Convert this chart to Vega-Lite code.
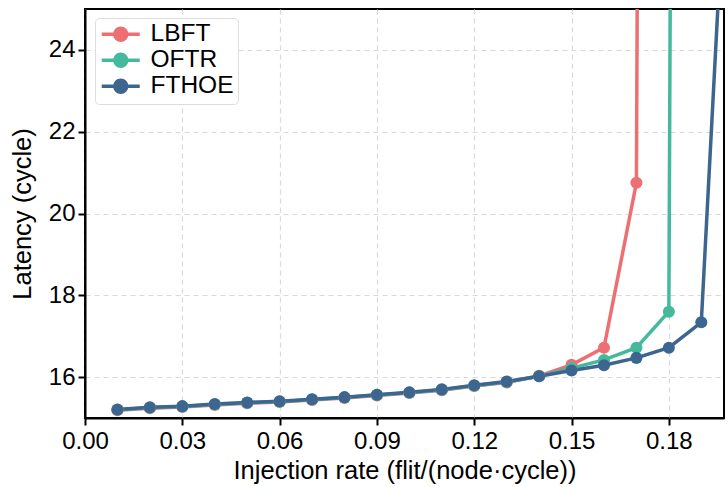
{
  "$schema": "https://vega.github.io/schema/vega-lite/v6.json",
  "width": 639,
  "height": 409,
  "autosize": "none",
  "padding": {"left": 85, "top": 9, "right": 4, "bottom": 69},
  "background": "white",
  "config": {
    "font": "Liberation Sans",
    "view": {"stroke": "black", "strokeWidth": 2},
    "axis": {
      "domainColor": "black", "domainWidth": 2,
      "tickColor": "black", "tickWidth": 2, "tickSize": 7,
      "labelColor": "black", "labelFontSize": 24, "labelFont": "Liberation Sans", "labelFlush": false,
      "titleColor": "black", "titleFontSize": 25.5, "titleFontWeight": "normal", "titleFont": "Liberation Sans",
      "gridColor": "#d9d9d9", "gridDash": [5, 4], "gridWidth": 1.2
    }
  },
  "data": {"values": [
    {"x": 0.01, "y": 15.19, "s": "LBFT"},
    {"x": 0.02, "y": 15.24, "s": "LBFT"},
    {"x": 0.03, "y": 15.27, "s": "LBFT"},
    {"x": 0.04, "y": 15.32, "s": "LBFT"},
    {"x": 0.05, "y": 15.36, "s": "LBFT"},
    {"x": 0.06, "y": 15.39, "s": "LBFT"},
    {"x": 0.07, "y": 15.44, "s": "LBFT"},
    {"x": 0.08, "y": 15.49, "s": "LBFT"},
    {"x": 0.09, "y": 15.55, "s": "LBFT"},
    {"x": 0.10, "y": 15.61, "s": "LBFT"},
    {"x": 0.11, "y": 15.68, "s": "LBFT"},
    {"x": 0.12, "y": 15.78, "s": "LBFT"},
    {"x": 0.13, "y": 15.87, "s": "LBFT"},
    {"x": 0.14, "y": 16.03, "s": "LBFT"},
    {"x": 0.15, "y": 16.30, "s": "LBFT"},
    {"x": 0.16, "y": 16.72, "s": "LBFT"},
    {"x": 0.17, "y": 20.75, "s": "LBFT"},
    {"x": 0.18, "y": 200, "s": "LBFT"},
    {"x": 0.01, "y": 15.20, "s": "OFTR"},
    {"x": 0.02, "y": 15.25, "s": "OFTR"},
    {"x": 0.03, "y": 15.28, "s": "OFTR"},
    {"x": 0.04, "y": 15.33, "s": "OFTR"},
    {"x": 0.05, "y": 15.37, "s": "OFTR"},
    {"x": 0.06, "y": 15.40, "s": "OFTR"},
    {"x": 0.07, "y": 15.45, "s": "OFTR"},
    {"x": 0.08, "y": 15.50, "s": "OFTR"},
    {"x": 0.09, "y": 15.56, "s": "OFTR"},
    {"x": 0.10, "y": 15.62, "s": "OFTR"},
    {"x": 0.11, "y": 15.69, "s": "OFTR"},
    {"x": 0.12, "y": 15.79, "s": "OFTR"},
    {"x": 0.13, "y": 15.88, "s": "OFTR"},
    {"x": 0.14, "y": 16.02, "s": "OFTR"},
    {"x": 0.15, "y": 16.22, "s": "OFTR"},
    {"x": 0.16, "y": 16.42, "s": "OFTR"},
    {"x": 0.17, "y": 16.72, "s": "OFTR"},
    {"x": 0.18, "y": 17.60, "s": "OFTR"},
    {"x": 0.19, "y": 200, "s": "OFTR"},
    {"x": 0.01, "y": 15.21, "s": "FTHOE"},
    {"x": 0.02, "y": 15.26, "s": "FTHOE"},
    {"x": 0.03, "y": 15.29, "s": "FTHOE"},
    {"x": 0.04, "y": 15.34, "s": "FTHOE"},
    {"x": 0.05, "y": 15.38, "s": "FTHOE"},
    {"x": 0.06, "y": 15.41, "s": "FTHOE"},
    {"x": 0.07, "y": 15.46, "s": "FTHOE"},
    {"x": 0.08, "y": 15.51, "s": "FTHOE"},
    {"x": 0.09, "y": 15.57, "s": "FTHOE"},
    {"x": 0.10, "y": 15.63, "s": "FTHOE"},
    {"x": 0.11, "y": 15.70, "s": "FTHOE"},
    {"x": 0.12, "y": 15.80, "s": "FTHOE"},
    {"x": 0.13, "y": 15.89, "s": "FTHOE"},
    {"x": 0.14, "y": 16.02, "s": "FTHOE"},
    {"x": 0.15, "y": 16.16, "s": "FTHOE"},
    {"x": 0.16, "y": 16.29, "s": "FTHOE"},
    {"x": 0.17, "y": 16.47, "s": "FTHOE"},
    {"x": 0.18, "y": 16.72, "s": "FTHOE"},
    {"x": 0.19, "y": 17.34, "s": "FTHOE"},
    {"x": 0.20, "y": 32.4, "s": "FTHOE"}
  ]},
  "encoding": {
    "x": {"field": "x", "type": "quantitative",
      "scale": {"domain": [0, 0.197], "nice": false, "zero": false},
      "axis": {"values": [0, 0.03, 0.06, 0.09, 0.12, 0.15, 0.18], "format": ".2f", "title": "Injection rate (flit/(node·cycle))", "labelPadding": 4, "titlePadding": 5}},
    "y": {"field": "y", "type": "quantitative",
      "scale": {"domain": [15, 25], "nice": false, "zero": false},
      "axis": {"values": [16, 18, 20, 22, 24], "title": "Latency (cycle)", "labelPadding": 3, "titlePadding": 13}},
    "color": {"field": "s", "type": "nominal",
      "scale": {"domain": ["LBFT", "OFTR", "FTHOE"], "range": ["#EE6F73", "#45B99C", "#3C6690"]},
      "legend": {
        "title": null, "orient": "none", "legendX": 10, "legendY": 9,
        "labelFontSize": 24.5, "labelColor": "black", "labelFont": "Liberation Sans",
        "symbolType": "M-1,0 L3,0 M0.37,0 A0.63,0.63 0 1,1 1.63,0 A0.63,0.63 0 1,1 0.37,0 Z",
        "symbolSize": 361, "symbolStrokeWidth": 3.5, "labelOffset": 27,
        "rowPadding": -3, "padding": 4,
        "fillColor": "white", "strokeColor": "#dddddd", "cornerRadius": 4,
        "encode": {"symbols": {"update": {
          "fill": {"scale": "color", "field": "value"},
          "stroke": {"scale": "color", "field": "value"},
          "opacity": {"value": 1}
        }}}
      }
    }
  },
  "layer": [
    {"mark": {"type": "line", "strokeWidth": 3.5, "clip": true}},
    {"mark": {"type": "point", "filled": true, "size": 145, "opacity": 1, "clip": true}}
  ]
}
